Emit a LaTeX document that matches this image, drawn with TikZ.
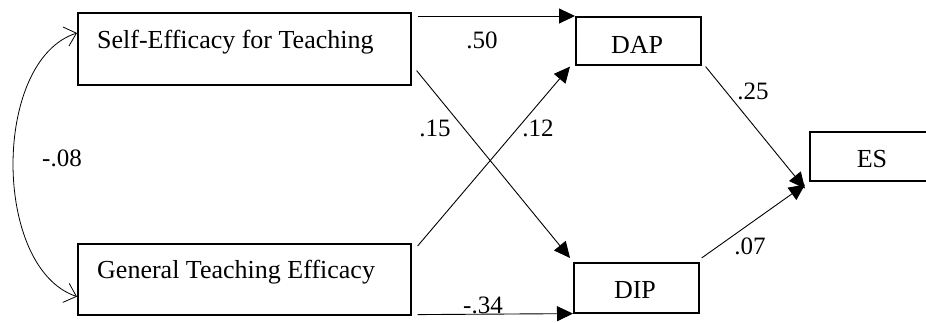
\documentclass[tikz,border=0pt]{standalone}
\usepackage{fontspec}
\setmainfont{Liberation Serif}
\usetikzlibrary{arrows.meta}
\begin{document}
\begin{tikzpicture}[x=1pt,y=-1pt,
  box/.style={draw,line width=1.6pt,rectangle,inner sep=0pt,anchor=north west},
  txt/.style={font=\fontsize{26}{30}\selectfont,inner sep=0pt},
  coef/.style={font=\fontsize{25}{29}\selectfont,inner sep=0pt},
  path/.style={line width=0.9pt,-{Triangle[length=16pt,width=15pt]}},
  corr/.style={line width=0.8pt,{Straight Barb[length=11pt,width=20pt]}-{Straight Barb[length=11pt,width=20pt]}}]
\useasboundingbox (0,0) rectangle (926,322);
\clip (0,0) rectangle (926,322);
% boxes
\node[box,minimum width=333pt,minimum height=72pt] (set) at (77,12) {};
\node[box,minimum width=333pt,minimum height=71pt] (gte) at (77,243) {};
\node[box,minimum width=125pt,minimum height=48pt] (dap) at (575,16) {};
\node[box,minimum width=125pt,minimum height=50pt] (dip) at (573,262) {};
\node[box,minimum width=130pt,minimum height=49pt] (es) at (809,131) {};
% box texts
\node[txt,anchor=base west] (setl) at (97,48) {Self-Efficacy for Teaching};
\node[txt,anchor=base west] (gtel) at (97,278) {General Teaching Efficacy};
\node[txt,anchor=base] (dapl) at (637,53) {DAP};
\node[txt,anchor=base] (dipl) at (635,298) {DIP};
\node[txt,anchor=base] (esl) at (872,167) {ES};
% correlation between the two efficacy scales
\coordinate (c1) at ([yshift=-21pt]set.north west);
\coordinate (c2) at ([yshift=19pt]gte.south west);
\draw[corr] (c1) .. controls (-8,60) and (-8,268) .. (c2);
% paths
\draw[path] ([xshift=6pt,yshift=-4pt]set.north east) -- (dap.north west);
\draw[path] ([xshift=6pt,yshift=1pt]gte.south east) -- (dip.south west);
\draw[path] ([xshift=5pt,yshift=15pt]set.south east) -- ([xshift=-3pt,yshift=4pt]dip.north west);
\draw[path] ([xshift=6pt,yshift=-3pt]gte.north east) -- ([xshift=-5pt,yshift=-1pt]dap.south west);
\draw[path] ([xshift=4pt,yshift=-1pt]dap.south east) -- ([xshift=-4pt,yshift=-7pt]es.south west);
\draw[path] ([xshift=2pt,yshift=4pt]dip.north east) -- ([xshift=-4pt,yshift=-3pt]es.south west);
% coefficients
\node[coef] (k50) at (482,40) {.50};
\node[coef] (k15) at (435,128) {.15};
\node[coef] (k12) at (538,128) {.12};
\node[coef] (k25) at (753,91) {.25};
\node[coef] (k07) at (750,246) {.07};
\node[coef] (k34) at (483,305) {-.34};
\node[coef] (k08) at (62,158) {-.08};
\end{tikzpicture}
\end{document}
